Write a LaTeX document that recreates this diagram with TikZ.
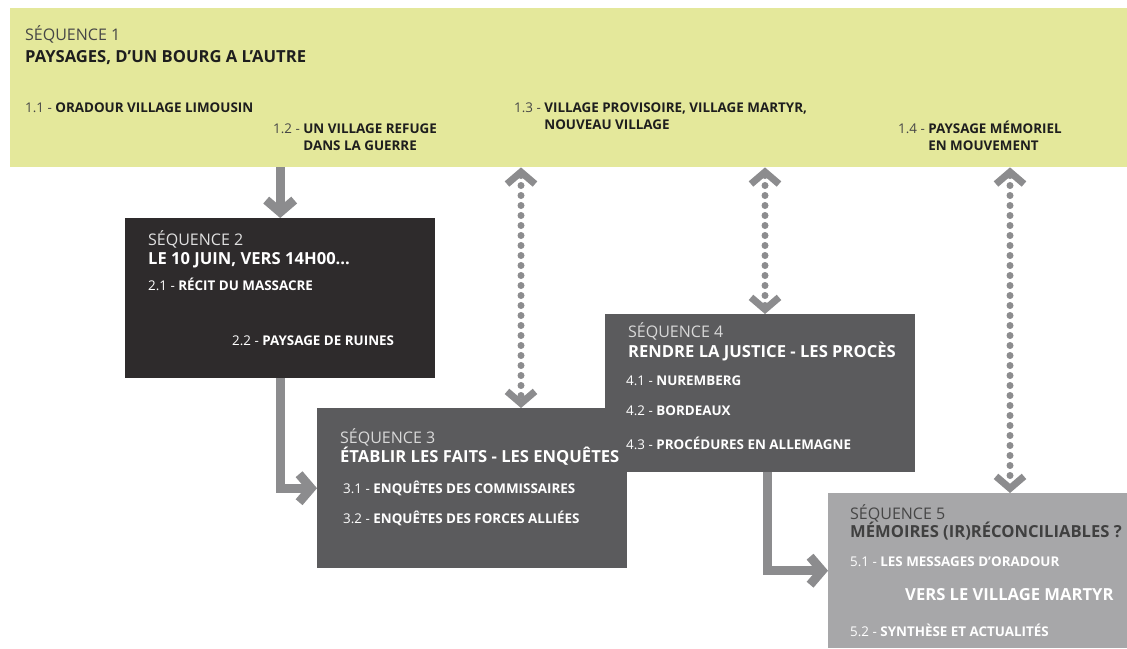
\documentclass[tikz,border=0pt]{standalone}
\usepackage{fontspec}
\setmainfont{Open Sans}
\usetikzlibrary{arrows.meta,positioning}

\definecolor{bannergreen}{RGB}{228,232,155}
\definecolor{darkbox}{RGB}{46,43,44}
\definecolor{midbox}{RGB}{91,91,93}
\definecolor{lightbox}{RGB}{167,167,169}
\definecolor{arrowgray}{RGB}{140,140,142}
\definecolor{inkdark}{RGB}{30,30,30}
\definecolor{inkmid}{RGB}{70,70,70}

\begin{document}
\begin{tikzpicture}[x=1pt, y=-1pt,
  box/.style={rectangle, inner sep=0pt, anchor=north west},
  seqhead/.style={anchor=base west, inner sep=0pt, font=\fontsize{16}{18}\selectfont},
  seqtitle/.style={anchor=base west, inner sep=0pt, font=\fontsize{16.6}{19}\selectfont\bfseries},
  item/.style={anchor=base west, inner sep=0pt, font=\fontsize{13.4}{15}\selectfont},
  flow/.style={draw=arrowgray, line width=9pt, -{Straight Barb[length=12pt,width=28pt]}},
  link/.style={draw=arrowgray, line width=7pt, line cap=round, dash pattern=on 0pt off 10pt,
    {Straight Barb[length=12pt,width=28pt]}-{Straight Barb[length=12pt,width=28pt]}}
]
  \useasboundingbox (0,0) rectangle (1127,648);

  % Sequences
  \node[box, fill=bannergreen, minimum width=1117pt, minimum height=159pt] (seq1) at (10,8) {};
  \node[box, fill=darkbox, minimum width=310pt, minimum height=160pt] (seq2) at (125,218) {};
  \node[box, fill=midbox, minimum width=310pt, minimum height=158pt] (seq4) at (605,314) {};
  \node[box, fill=midbox, minimum width=310pt, minimum height=160pt] (seq3) at (317,408) {};
  \node[box, fill=lightbox, minimum width=299pt, minimum height=155pt] (seq5) at (828,493) {};

  % Sequence 1
  \node[seqhead, text=inkmid] (h1) at (25,40) {SÉQUENCE 1};
  \node[seqtitle, text=inkdark] (n1) at (25,62) {PAYSAGES, D’UN BOURG A L’AUTRE};
  \node[item, text=inkdark] (t11) at (25,112) {\textcolor{inkmid}{1.1 -} \textbf{ORADOUR VILLAGE LIMOUSIN}};
  \node[item, text=inkdark] (t12) at (273,133) {\textcolor{inkmid}{1.2 -} \textbf{UN VILLAGE REFUGE}};
  \node[item, text=inkdark] (t12b) at (273,150) {\phantom{1.2 - }\textbf{DANS LA GUERRE}};
  \node[item, text=inkdark] (t13) at (514,112) {\textcolor{inkmid}{1.3 -} \textbf{VILLAGE PROVISOIRE, VILLAGE MARTYR,}};
  \node[item, text=inkdark] (t13b) at (514,129) {\phantom{1.3 - }\textbf{NOUVEAU VILLAGE}};
  \node[item, text=inkdark] (t14) at (898,133) {\textcolor{inkmid}{1.4 -} \textbf{PAYSAGE MÉMORIEL}};
  \node[item, text=inkdark] (t14b) at (898,150) {\phantom{1.4 - }\textbf{EN MOUVEMENT}};

  % Sequence 2
  \node[seqhead, text=white!88!black] (h2) at (148,245) {SÉQUENCE 2};
  \node[seqtitle, text=white] (n2) at (148,264) {LE 10 JUIN, VERS 14H00...};
  \node[item, text=white] (t21) at (148,290) {2.1 - \textbf{RÉCIT DU MASSACRE}};
  \node[item, text=white] (t22) at (232,345) {2.2 - \textbf{PAYSAGE DE RUINES}};

  % Sequence 3
  \node[seqhead, text=white!85!black] (h3) at (340,443) {SÉQUENCE 3};
  \node[seqtitle, text=white] (n3) at (340,462) {ÉTABLIR LES FAITS - LES ENQUÊTES};
  \node[item, text=white] (t31) at (343,493) {3.1 - \textbf{ENQUÊTES DES COMMISSAIRES}};
  \node[item, text=white] (t32) at (343,523) {3.2 - \textbf{ENQUÊTES DES FORCES ALLIÉES}};

  % Sequence 4
  \node[seqhead, text=white!85!black] (h4) at (628,337) {SÉQUENCE 4};
  \node[seqtitle, text=white] (n4) at (628,357) {RENDRE LA JUSTICE - LES PROCÈS};
  \node[item, text=white] (t41) at (626,385) {4.1 - \textbf{NUREMBERG}};
  \node[item, text=white] (t42) at (626,415) {4.2 - \textbf{BORDEAUX}};
  \node[item, text=white] (t43) at (626,449) {4.3 - \textbf{PROCÉDURES EN ALLEMAGNE}};

  % Sequence 5
  \node[seqhead, text=inkmid] (h5) at (850,519) {SÉQUENCE 5};
  \node[seqtitle, text=inkdark!85!white] (n5) at (850,537) {MÉMOIRES (IR)RÉCONCILIABLES ?};
  \node[item, text=white] (t51) at (850,566) {5.1 - \textbf{LES MESSAGES D’ORADOUR}};
  \node[item, text=white, font=\fontsize{16.6}{19}\selectfont\bfseries] (t5x) at (905,600) {VERS LE VILLAGE MARTYR};
  \node[item, text=white] (t52) at (850,636) {5.2 - \textbf{SYNTHÈSE ET ACTUALITÉS}};

  % Liens
  \coordinate (l3) at ([xshift=204pt]seq3.north west);
  \coordinate (l4) at ([xshift=160pt]seq4.north west);
  \coordinate (l5) at ([xshift=182pt]seq5.north west);
  \coordinate (e4) at ([xshift=162pt]seq4.south west);

  \draw[flow] (seq2.north |- seq1.south) -- (seq2.north);
  \draw[flow] (seq2.south) |- (seq3.west);
  \draw[flow] (e4) |- (seq5.west);
  \draw[link] (l3 |- seq1.south) -- (l3);
  \draw[link] (l4 |- seq1.south) -- (l4);
  \draw[link] (l5 |- seq1.south) -- (l5);
\end{tikzpicture}
\end{document}
